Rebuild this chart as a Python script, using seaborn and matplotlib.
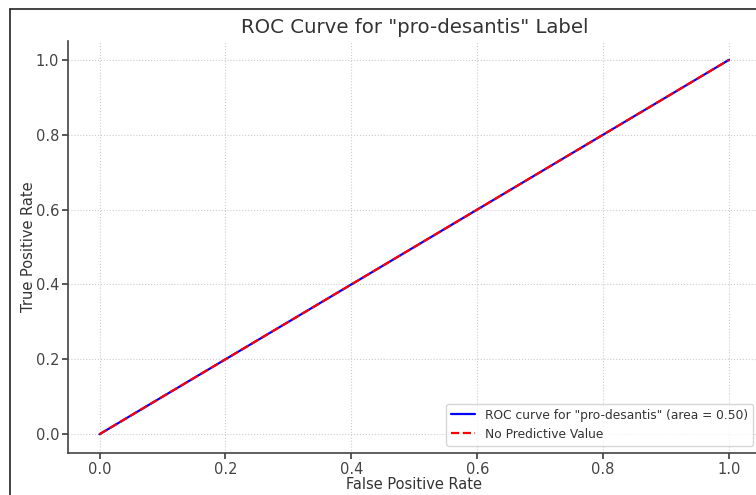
import matplotlib
matplotlib.use("Agg")
import matplotlib.pyplot as plt
import seaborn as sns
import pandas as pd
from matplotlib.lines import Line2D

fpr = [0.0, 1.0]
tpr = [0.0, 1.0]
chance_x = [0.0, 1.0]
chance_y = [0.0, 1.0]
roc_auc = 0.50
ticks = [0.0, 0.2, 0.4, 0.6, 0.8, 1.0]

sns.set_theme(style="ticks")
plt.rcParams['font.family'] = ['DejaVu Sans']

fig = plt.figure(figsize=(7.56, 4.95), dpi=100)
ax = fig.add_axes([0.090, 0.085, 0.916, 0.832])

df_roc = pd.DataFrame({"fpr": fpr, "tpr": tpr})
df_ch = pd.DataFrame({"x": chance_x, "y": chance_y})
sns.lineplot(data=df_roc, x="fpr", y="tpr", ax=ax, color="blue", lw=1.6,
             label=f'ROC curve for "pro-desantis" (area = {roc_auc:.2f})')
sns.lineplot(data=df_ch, x="x", y="y", ax=ax, color="red", lw=1.6, ls="--",
             label="No Predictive Value")

ax.set_xlim(-0.05, 1.05)
ax.set_ylim(-0.05, 1.05)
ax.set_xticks(ticks)
ax.set_yticks(ticks)
ax.set_xticklabels([f"{t:.1f}" for t in ticks])
ax.set_yticklabels([f"{t:.1f}" for t in ticks])
ax.tick_params(labelsize=10.5, colors="#444444", length=4, pad=2.5)
ax.grid(True, ls=":", color="#cccccc", lw=0.8)
for s in ["top", "right"]:
    ax.spines[s].set_visible(False)
for s in ["left", "bottom"]:
    ax.spines[s].set_color("#444444")
    ax.spines[s].set_linewidth(1.2)

ax.set_xlabel("False Positive Rate", fontsize=10.5, color="#333333", labelpad=0)
ax.set_ylabel("True Positive Rate", fontsize=10.5, color="#333333", labelpad=0)
ax.set_title('ROC Curve for "pro-desantis" Label', fontsize=14.2, color="#333333", pad=6)
leg = ax.legend(loc="lower right", fontsize=8.8, frameon=True, handlelength=2.0,
                borderaxespad=0.6)
for t in leg.get_texts():
    t.set_color("#333333")

# screenshot frame lines
fig.add_artist(Line2D([10/756, 10/756], [0, 1 - 9/495], color="#222222", lw=1.2))
fig.add_artist(Line2D([10/756, 1], [1 - 9/495, 1 - 9/495], color="#222222", lw=1.2))

fig.savefig("out.png", dpi=100)
